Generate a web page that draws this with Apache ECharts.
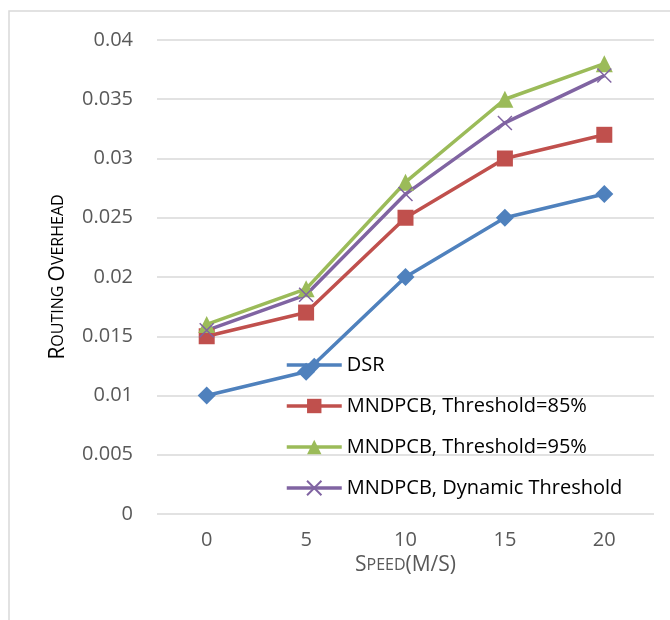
<!DOCTYPE html>
<html>
<head>
<meta charset="utf-8">
<script src="https://cdn.jsdelivr.net/npm/echarts@6/dist/echarts.min.js"></script>
<style>
  body { margin: 0; background: #fff; }
</style>
</head>
<body>
<div id="myChart" style="width:670px;height:620px"></div>
<script>
var speeds = ['0', '5', '10', '15', '20']
var dsr = [0.01, 0.012, 0.02, 0.025, 0.027]
var thr85 = [0.015, 0.017, 0.025, 0.03, 0.032]
var thr95 = [0.016, 0.019, 0.028, 0.035, 0.038]
var dynamic = [0.0155, 0.0185, 0.027, 0.033, 0.037]

var seriesNames = ['DSR', 'MNDPCB, Threshold=85%', 'MNDPCB, Threshold=95%', 'MNDPCB, Dynamic Threshold']
var colors = ['#4F81BD', '#C0504D', '#9BBB59', '#8064A2']

var font = 'Open Sans'
var crossPath = 'path://M0,0L10,10M10,0L0,10'

function makeLine (name, data, color, symbol, size, extra) {
  var s = {
    name: name,
    type: 'line',
    data: data,
    symbol: symbol,
    symbolSize: size,
    lineStyle: { width: 3.5, color: color },
    itemStyle: { color: color }
  }
  if (extra) s.itemStyle = extra
  return s
}

var myChart = echarts.init(document.getElementById('myChart'))

myChart.setOption({
  animation: false,
  color: colors,
  graphic: [{
    type: 'rect',
    shape: { x: 9, y: 11, width: 700, height: 700 },
    style: { fill: 'none', stroke: '#d9d9d9', lineWidth: 1.5 },
    silent: true
  }],
  grid: { left: 157, right: 16, top: 40, bottom: 106 },
  legend: {
    orient: 'vertical',
    left: 280,
    top: 349,
    itemWidth: 55,
    itemHeight: 18,
    itemGap: 19,
    lineStyle: { width: 3.5 },
    textStyle: { fontFamily: font, fontSize: 20, lineHeight: 22, color: '#000' },
    data: seriesNames
  },
  xAxis: {
    type: 'category',
    data: speeds,
    axisLine: { show: false },
    axisTick: { show: false },
    axisLabel: { fontFamily: font, fontSize: 20, color: '#595959', margin: 16 },
    name: '{b|S}{s|PEED}{b|(M/S)}',
    nameLocation: 'middle',
    nameGap: 39,
    nameTextStyle: {
      rich: {
        b: { fontFamily: font, fontSize: 21, color: '#595959' },
        s: { fontFamily: font, fontSize: 16, color: '#595959' }
      }
    }
  },
  yAxis: {
    type: 'value',
    min: 0,
    max: 0.04,
    interval: 0.005,
    axisLine: { show: false },
    axisTick: { show: false },
    splitLine: { lineStyle: { color: '#d9d9d9', width: 1.5 } },
    axisLabel: { fontFamily: font, fontSize: 20, color: '#595959', margin: 24 },
    name: '{b|R}{s|OUTING }{b|O}{s|VERHEAD}',
    nameLocation: 'middle',
    nameGap: 88,
    nameTextStyle: {
      rich: {
        b: { fontFamily: font, fontSize: 21, color: '#000' },
        s: { fontFamily: font, fontSize: 16, color: '#000' }
      }
    }
  },
  series: [
    makeLine(seriesNames[0], dsr, colors[0], 'diamond', 18),
    makeLine(seriesNames[1], thr85, colors[1], 'rect', 16),
    makeLine(seriesNames[2], thr95, colors[2], 'triangle', 17),
    makeLine(seriesNames[3], dynamic, colors[3], crossPath, 14,
      { color: colors[3], borderColor: colors[3], borderWidth: 1.5 })
  ]
})
</script>
</body>
</html>
